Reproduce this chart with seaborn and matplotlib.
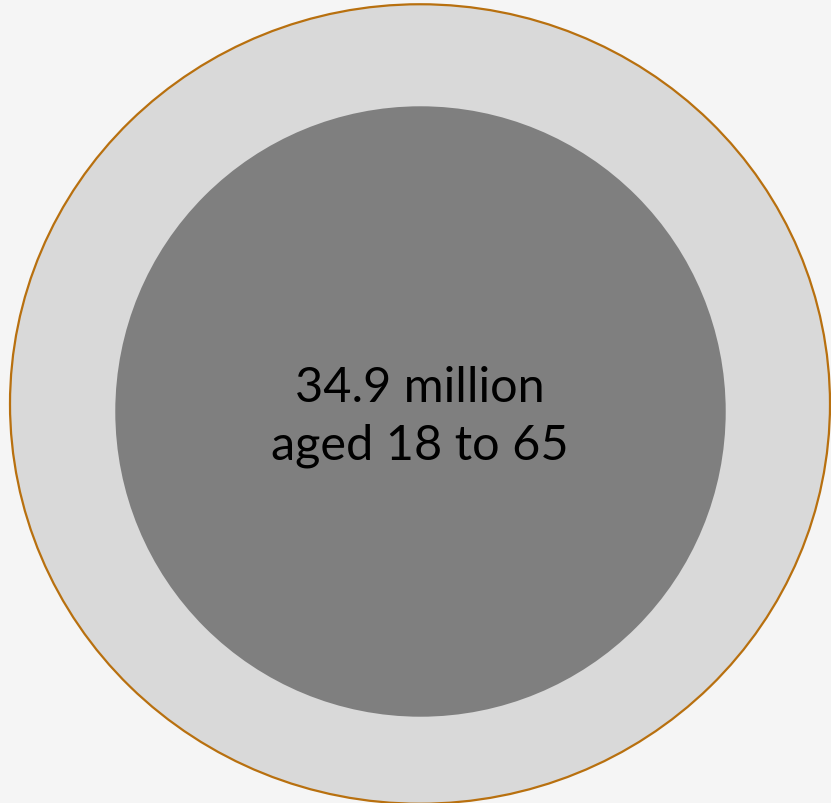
import numpy as np
import matplotlib
matplotlib.use("Agg")
import matplotlib.pyplot as plt
from matplotlib.patches import Ellipse, Circle
import seaborn as sns

# data (millions)
total_population = 61.1
working_age = 34.9
label_lines = ["34.9 million", "aged 18 to 65"]

sns.set_theme(style="white")
plt.rcParams["font.family"] = ["Lato", "DejaVu Sans"]

fig = plt.figure(figsize=(8.31, 8.04), dpi=100)
fig.patch.set_facecolor("#f5f5f5")
ax = fig.add_axes([0, 0, 1, 1])
ax.set_xlim(0, 831)
ax.set_ylim(804, 0)
ax.axis("off")

# radius scaled so that area is proportional to value
scale = 410 / np.sqrt(total_population)
r_outer = scale * np.sqrt(total_population)
r_inner = scale * np.sqrt(working_age) * 0.985

outer = Ellipse((420, 405), 2 * r_outer, 2 * r_outer * 0.975,
                facecolor="#d9d9d9", edgecolor="#b8700f", linewidth=1.6)
ax.add_patch(outer)

inner = Circle((420.5, 412.5), r_inner, facecolor="#7f7f7f", edgecolor="none")
ax.add_patch(inner)

ax.text(420, 417, "\n".join(label_lines), ha="center", va="center",
        fontsize=35, color="black", linespacing=1.4)

plt.savefig("out.png", dpi=100, facecolor=fig.get_facecolor())
